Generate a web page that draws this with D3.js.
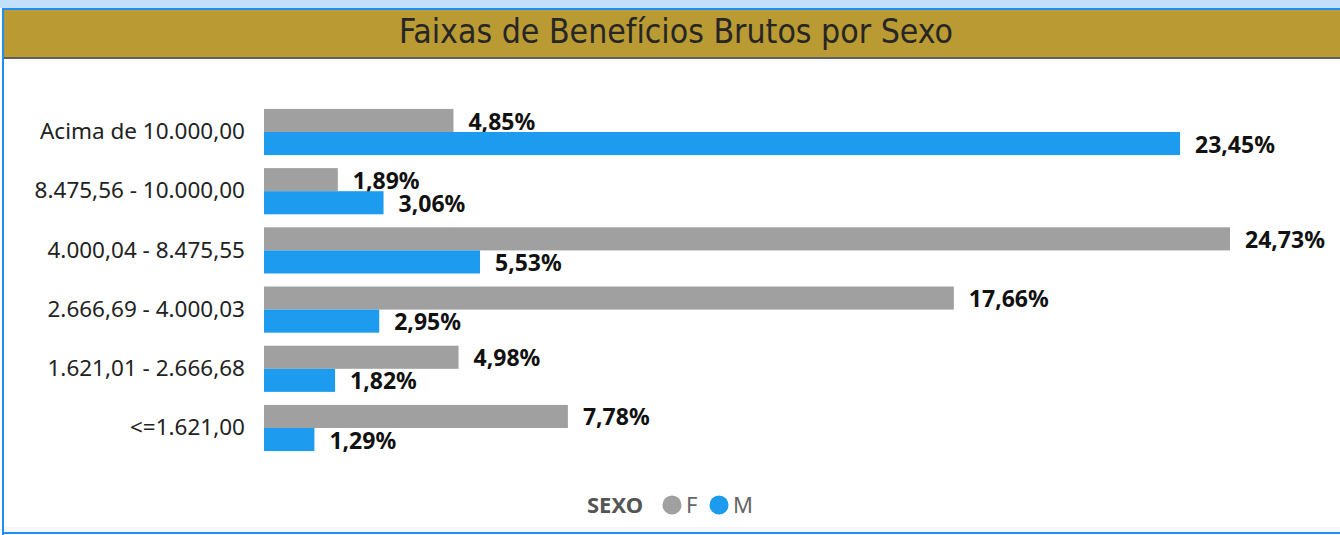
<!DOCTYPE html>
<html>
<head>
<meta charset="utf-8">
<script src="https://cdn.jsdelivr.net/npm/d3@7"></script>
<style>
  body { margin: 0; background: #fff; }
  svg { display: block; }
</style>
</head>
<body>
<div id="chart"></div>
<script>
// Data
var categories = ["Acima de 10.000,00", "8.475,56 - 10.000,00", "4.000,04 - 8.475,55",
                  "2.666,69 - 4.000,03", "1.621,01 - 2.666,68", "<=1.621,00"];
var seriesNames = ["F", "M"];
var valuesF = [4.85, 1.89, 24.73, 17.66, 4.98, 7.78];
var valuesM = [23.45, 3.06, 5.53, 2.95, 1.82, 1.29];
var colors = ["#a0a0a0", "#1c9bef"];

var svgWidth = 1340, svgHeight = 535;

var svg = d3.select("#chart").append("svg")
  .attr("width", svgWidth)
  .attr("height", svgHeight);

// frame
svg.append("rect").attr("x", 0).attr("y", 0).attr("width", svgWidth).attr("height", 8).attr("fill", "#c3e0fb");
svg.append("rect").attr("x", 2).attr("y", 8).attr("width", svgWidth - 2).attr("height", 525).attr("fill", "#fff");
svg.append("rect").attr("x", 2).attr("y", 527).attr("width", svgWidth - 2).attr("height", 5).attr("fill", "#f7f7f7");
svg.append("rect").attr("x", 2).attr("y", 8).attr("width", svgWidth - 2).attr("height", 2).attr("fill", "#1e8ff5");
svg.append("rect").attr("x", 2).attr("y", 8).attr("width", 2).attr("height", 527).attr("fill", "#1e8ff5");
svg.append("rect").attr("x", 2).attr("y", 532).attr("width", svgWidth - 2).attr("height", 2).attr("fill", "#1e8ff5");

// title bar
svg.append("rect").attr("x", 4).attr("y", 10).attr("width", svgWidth - 4).attr("height", 47).attr("fill", "#ba9a33");
svg.append("rect").attr("x", 4).attr("y", 57).attr("width", svgWidth - 4).attr("height", 2).attr("fill", "#5f5f5f");
svg.append("text")
  .attr("x", 676).attr("y", 43)
  .attr("text-anchor", "middle")
  .attr("font-family", "'DejaVu Sans Condensed', 'DejaVu Sans', sans-serif")
  .attr("font-stretch", "condensed")
  .attr("font-size", "33.5px")
  .attr("fill", "#262626")
  .text("Faixas de Benefícios Brutos por Sexo");

// scales
var x = d3.scaleLinear().domain([0, 24.73]).range([264, 1230]);
var y = d3.scaleBand().domain(categories).range([103, 457]).paddingInner(0.22).paddingOuter(0.1);
var y1 = d3.scaleBand().domain(seriesNames).range([0, y.bandwidth()]);

var yAxis = d3.axisLeft(y).tickSize(0).tickPadding(0);
var axisG = svg.append("g")
  .attr("transform", "translate(245,0)")
  .call(yAxis);
axisG.select(".domain").remove();
axisG.selectAll("text")
  .attr("font-family", "'Noto Sans', 'Open Sans', sans-serif")
  .attr("font-size", "22.5px")
  .attr("fill", "#222");

var series = [valuesF, valuesM];
series.forEach(function(vals, si) {
  var g = svg.append("g");
  g.selectAll("rect")
    .data(vals)
    .enter()
    .append("rect")
    .attr("x", x(0))
    .attr("y", (d, i) => y(categories[i]) + y1(seriesNames[si]))
    .attr("width", d => x(d) - x(0))
    .attr("height", y1.bandwidth())
    .attr("fill", colors[si]);

  g.selectAll("text")
    .data(vals)
    .enter()
    .append("text")
    .attr("x", d => x(d) + 15)
    .attr("y", (d, i) => y(categories[i]) + y1(seriesNames[si]) + y1.bandwidth() / 2 + 1)
    .attr("dy", "0.35em")
    .attr("font-family", "'Noto Sans', 'Open Sans', sans-serif")
    .attr("font-weight", "bold")
    .attr("font-size", "23px")
    .attr("fill", "#111")
    .text(d => d.toFixed(2).replace(".", ",") + "%");
});

// legend
var legend = svg.append("g").attr("font-family", "'Noto Sans', 'Open Sans', sans-serif").attr("font-size", "22px");
legend.append("text").attr("x", 587).attr("y", 513).attr("font-weight", "bold").attr("fill", "#555").text("SEXO");
seriesNames.forEach(function(s, i) {
  var cx = 672 + i * 47;
  legend.append("circle").attr("cx", cx).attr("cy", 505).attr("r", 9.5).attr("fill", colors[i]);
  legend.append("text").attr("x", cx + 14).attr("y", 513).attr("fill", "#666").text(s);
});
</script>
</body>
</html>
